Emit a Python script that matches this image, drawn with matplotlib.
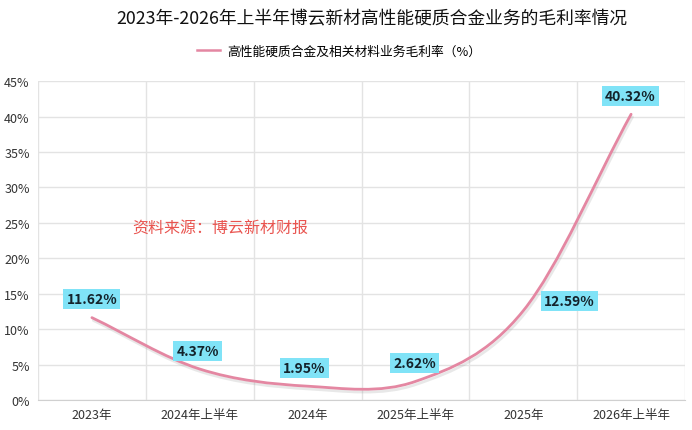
import matplotlib
matplotlib.use('Agg')
import matplotlib.pyplot as plt
import matplotlib.patheffects as pe
from matplotlib.path import Path
from matplotlib.patches import PathPatch
from matplotlib.lines import Line2D
from matplotlib.ticker import PercentFormatter, MultipleLocator
import numpy as np

plt.rcParams['font.family'] = ['Noto Sans CJK SC', 'DejaVu Sans']

# 数据
periods = ['2023年', '2024年上半年', '2024年', '2025年上半年', '2025年', '2026年上半年']
margin = [11.62, 4.37, 1.95, 2.62, 12.59, 40.32]
series_name = '高性能硬质合金及相关材料业务毛利率（%）'
title = '2023年-2026年上半年博云新材高性能硬质合金业务的毛利率情况'
source = '资料来源：博云新材财报'

# 标签偏移（像素）
label_offsets = [(0, 19), (-2, 18), (-3, 18), (-1, 18), (46, 10), (-1, 18)]

line_color = '#e487a2'

fig = plt.figure(figsize=(6.92, 4.31), dpi=100)
ax = fig.add_axes([0.0549, 0.0696, 0.935, 0.740])

# 平滑曲线 (Catmull-Rom -> 三次贝塞尔)
x = np.arange(len(margin), dtype=float)
y = np.array(margin)
pts = np.column_stack([x, y])
tang = np.zeros_like(pts)
tang[1:-1] = (pts[2:] - pts[:-2]) / 2
tang[0] = pts[1] - pts[0]
tang[-1] = pts[-1] - pts[-2]
verts = [pts[0]]
codes = [Path.MOVETO]
for i in range(len(pts) - 1):
    verts += [pts[i] + tang[i] / 3, pts[i + 1] - tang[i + 1] / 3, pts[i + 1]]
    codes += [Path.CURVE4] * 3
curve = PathPatch(Path(verts, codes), fill=False, edgecolor=line_color, lw=2.0,
                  capstyle='round', zorder=3)
curve.set_path_effects([pe.SimpleLineShadow(offset=(1, -2), shadow_color='#999999', alpha=0.22),
                        pe.Normal()])
ax.add_patch(curve)

# 数据标签
for xi, yi, off in zip(x, y, label_offsets):
    ax.annotate(f'{yi:.2f}%', (xi, yi), xytext=off, textcoords='offset pixels',
                ha='center', va='center', fontsize=10, fontweight='bold', color='#14232b',
                bbox=dict(boxstyle='square,pad=0.22', fc='#80e3f7', ec='none'), zorder=5)

ax.set_xlim(-0.5, len(periods) - 0.5)
ax.set_ylim(0, 45)
ax.set_xticks(x)
ax.set_xticklabels(periods, fontsize=9, color='#333333')
ax.set_xticks(np.arange(-0.5, len(periods)), minor=True)
ax.yaxis.set_major_locator(MultipleLocator(5))
ax.yaxis.set_major_formatter(PercentFormatter(decimals=0))
ax.tick_params(axis='y', labelsize=9, colors='#333333', length=0, pad=6)
ax.tick_params(axis='x', which='both', length=0, pad=6)
ax.grid(axis='y', color='#e3e3e3', lw=1)
ax.grid(axis='x', which='minor', color='#e3e3e3', lw=1)
ax.grid(axis='x', which='major', visible=False)
for s in ['top', 'right', 'left']:
    ax.spines[s].set_visible(False)
ax.spines['bottom'].set_color('#d0d0d0')
ax.set_axisbelow(True)

ax.text(0.145, 0.539, source, transform=ax.transAxes, fontsize=11.5,
        color='#e9544f', va='center', ha='left')

fig.text(0.538, 0.958, title, ha='center', va='center', fontsize=12.8, color='#111111')
handle = Line2D([], [], color=line_color, lw=1.8)
fig.legend([handle], [series_name], loc='center', bbox_to_anchor=(0.49, 0.879),
           frameon=False, fontsize=9.2, handlelength=1.8, handletextpad=0.6)

fig.savefig('out.png', dpi=100)
